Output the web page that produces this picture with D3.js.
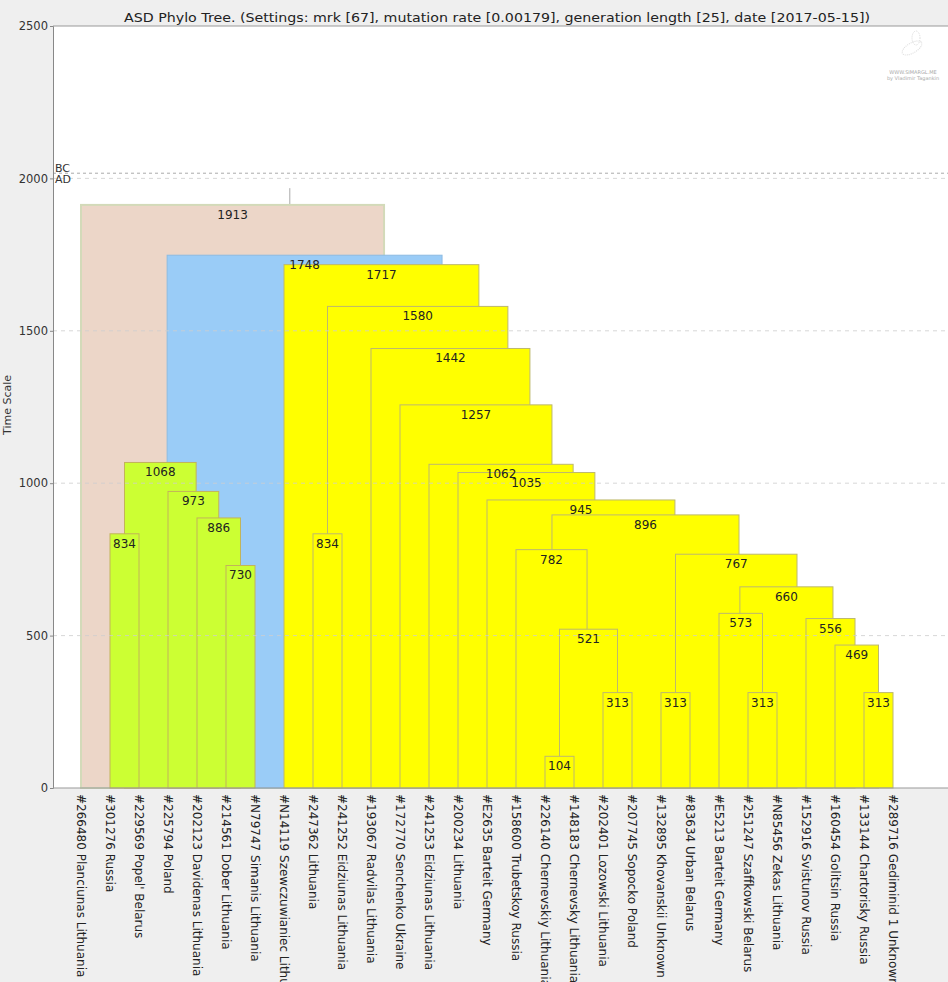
<!DOCTYPE html>
<html lang="en">
<head>
<meta charset="UTF-8">
<title>ASD Phylo Tree</title>
<script src="https://cdn.jsdelivr.net/npm/d3@7"></script>
<style>
  body { margin: 0; background: #efefef; }
  svg text { font-family: "DejaVu Sans", sans-serif; }
</style>
</head>
<body>
<script>
// leaves, left to right along the bottom
const leafNames = [
  "#266480 Planciunas Lithuania", "#301276  Russia", "#229569 Popel' Belarus", "#225794  Poland",
  "#202123 Davidenas Lithuania", "#214561 Dober Lithuania", "#N79747 Simanis Lithuania",
  "#N14119 Szewczuwianiec Lithuania", "#247362  Lithuania", "#241252 Eidziunas Lithuania",
  "#193067 Radvilas Lithuania", "#172770 Senchenko Ukraine", "#241253 Eidziunas Lithuania",
  "#200234  Lithuania", "#E2635 Barteit Germany", "#158600 Trubetskoy Russia",
  "#226140 Chernevskiy Lithuania", "#148183 Chernevsky Lithuania", "#202401 Lozowski Lithuania",
  "#207745 Sopocko Poland", "#132895 Khovanskii Unknown", "#83634 Urban Belarus",
  "#E5213 Barteit Germany", "#251247 Szaffkowski Belarus", "#N85456 Zekas Lithuania",
  "#152916 Svistunov Russia", "#160454 Golitsin Russia", "#133144 Chartorisky Russia",
  "#289716 Gediminid 1 Unknown"
];

// internal nodes: age in years, children (L = leaf index, N = node index),
// clade, and horizontal place of the node in leaf units
const nodeAge = [1913, 1748, 1068, 973, 886, 730, 834, 1717, 834, 1580, 1442, 1257, 1062, 1035,
  945, 896, 782, 104, 521, 313, 767, 313, 660, 573, 313, 556, 469, 313];
const nodeKids = [
  ["L0", "N1"], ["N2", "N7"], ["N6", "N3"], ["L3", "N4"], ["L4", "N5"], ["L5", "L6"], ["L1", "L2"],
  ["L7", "N9"], ["L8", "L9"], ["N8", "N10"], ["L10", "N11"], ["L11", "N12"], ["L12", "N13"],
  ["L13", "N14"], ["L14", "N15"], ["N16", "N20"], ["L15", "N18"], ["L16", "L17"], ["N17", "N19"],
  ["L18", "L19"], ["N21", "N22"], ["L20", "L21"], ["N23", "N25"], ["L22", "N24"], ["L23", "L24"],
  ["L25", "N26"], ["L26", "N27"], ["L27", "L28"]
];
const nodeClade = ["root", "blue", "green", "green", "green", "green", "green",
  "yellow", "yellow", "yellow", "yellow", "yellow", "yellow", "yellow", "yellow", "yellow",
  "yellow", "yellow", "yellow", "yellow", "yellow", "yellow", "yellow", "yellow", "yellow",
  "yellow", "yellow", "yellow"];
const nodeAt = [7.2, 10.45, 2.97, 3.97, 4.75, 5.5, 1.5, 12.45, 8.5, 13.72, 14.72, 15.48, 16.24,
  16.97, 17.72, 20.48, 16.24, 16.5, 17.45, 18.5, 22.69, 20.5, 24.69, 22.72, 23.5, 25.93, 26.69, 27.5];

const yTicks = [0, 500, 1000, 1500, 2000, 2500];
const eraYear = 2017;      // BC / AD boundary seen from 2017
const rootStemTop = 1968;
const titleText = "ASD Phylo Tree. (Settings: mrk [67], mutation rate [0.00179], generation length [25], date [2017-05-15])";

const cladeFill = {root: "#ecd6c8", blue: "#9accf7", green: "#ccff33", yellow: "#ffff00"};
const cladeStroke = {root: "#d3dab9", blue: "#8cbbe2", green: "#c2b45a", yellow: "#bdb86e"};

const W = 948, H = 982;
const plot = {left: 53, top: 26, right: 948, bottom: 788};

const svg = d3.select("body").append("svg")
  .attr("width", W)
  .attr("height", H);

svg.append("rect")
  .attr("x", plot.left).attr("y", plot.top)
  .attr("width", plot.right - plot.left).attr("height", plot.bottom - plot.top)
  .attr("fill", "#fff");

const x = d3.scaleLinear().domain([0, leafNames.length - 1]).range([81, 893]);
const y = d3.scaleLinear().domain([0, 2500]).range([plot.bottom, plot.top]);

const kidX = k => k[0] === "L" ? +k.slice(1) : nodeAt[+k.slice(1)];

// boxes, parents first
const order = [];
(function walk(i) {
  order.push(i);
  nodeKids[i].forEach(k => { if (k[0] === "N") walk(+k.slice(1)); });
})(0);

// watermark logo, faint
const logo = svg.append("g").attr("transform", "translate(912,48)").attr("opacity", 0.35);
logo.append("ellipse").attr("rx", 11).attr("ry", 5).attr("transform", "rotate(-30)")
  .attr("fill", "none").attr("stroke", "#999").attr("stroke-dasharray", "1,1");
logo.append("ellipse").attr("cx", 4).attr("cy", -10).attr("rx", 4).attr("ry", 7)
  .attr("fill", "none").attr("stroke", "#999").attr("stroke-dasharray", "1,1");
svg.append("text").attr("x", 913).attr("y", 74).attr("text-anchor", "middle")
  .attr("font-size", 5).attr("fill", "#aaa").text("WWW.SIMARGL.ME");
svg.append("text").attr("x", 913).attr("y", 80).attr("text-anchor", "middle")
  .attr("font-size", 5).attr("fill", "#aaa").text("by Vladimir Tagankin");

// root stem
svg.append("line")
  .attr("x1", x(nodeAt[0])).attr("x2", x(nodeAt[0]))
  .attr("y1", y(nodeAge[0])).attr("y2", y(rootStemTop))
  .attr("stroke", "#aaa");

const boxes = svg.append("g");
order.forEach(i => {
  const [a, b] = nodeKids[i];
  const x0 = x(kidX(a)), x1 = x(kidX(b));
  const c = nodeClade[i];
  boxes.append("rect")
    .attr("x", x0).attr("y", y(nodeAge[i]))
    .attr("width", x1 - x0).attr("height", y(0) - y(nodeAge[i]))
    .attr("fill", cladeFill[c])
    .attr("stroke", cladeStroke[c])
    .attr("stroke-width", c === "root" ? 2 : 1);
});

// grid lines over the boxes
svg.append("g").selectAll("line")
  .data(yTicks.filter(d => d > 0 && d < 2500))
  .join("line")
  .attr("x1", plot.left).attr("x2", plot.right)
  .attr("y1", d => y(d)).attr("y2", d => y(d))
  .attr("stroke", "#cfcfcf")
  .attr("stroke-dasharray", "4,4")
  .attr("opacity", 0.8);

// BC / AD boundary
svg.append("line")
  .attr("x1", plot.left).attr("x2", plot.right)
  .attr("y1", y(eraYear)).attr("y2", y(eraYear))
  .attr("stroke", "#aaa")
  .attr("stroke-dasharray", "3,3");
svg.append("text").attr("x", 55).attr("y", y(eraYear) - 1)
  .attr("font-size", 11).attr("fill", "#333").text("BC");
svg.append("text").attr("x", 55).attr("y", y(eraYear) + 10)
  .attr("font-size", 11).attr("fill", "#333").text("AD");

// node ages
svg.append("g").selectAll("text")
  .data(order)
  .join("text")
  .attr("x", i => (x(kidX(nodeKids[i][0])) + x(kidX(nodeKids[i][1]))) / 2)
  .attr("y", i => y(nodeAge[i]) + 14)
  .attr("text-anchor", "middle")
  .attr("font-size", 12)
  .attr("fill", "#222")
  .text(i => nodeAge[i]);

// frame
svg.append("line")
  .attr("x1", plot.left).attr("x2", plot.right)
  .attr("y1", plot.top).attr("y2", plot.top)
  .attr("stroke", "#999");

// y axis
const yAxis = svg.append("g")
  .attr("transform", `translate(${plot.left},0)`)
  .call(d3.axisLeft(y).tickValues(yTicks).tickFormat(d3.format("d")).tickSize(3).tickPadding(2));
yAxis.select(".domain").attr("stroke", "#888");
yAxis.selectAll(".tick line").attr("stroke", "#888");
yAxis.selectAll("text").attr("font-size", 11.5).attr("fill", "#333")
  .attr("font-family", "DejaVu Sans, sans-serif");

svg.append("text")
  .attr("transform", `translate(11,405) rotate(-90)`)
  .attr("text-anchor", "middle")
  .attr("font-size", 11)
  .attr("fill", "#333")
  .text("Time Scale");

// leaf axis
const xAxis = svg.append("g")
  .attr("transform", `translate(0,${plot.bottom})`)
  .call(d3.axisBottom(x).tickValues(d3.range(leafNames.length))
    .tickFormat(i => leafNames[i]).tickSize(0));
xAxis.select(".domain").attr("stroke", "#999").attr("d", `M${plot.left},0H${plot.right}`);
xAxis.selectAll("text")
  .attr("transform", "rotate(90)")
  .attr("x", 6).attr("y", 0).attr("dy", "0.35em")
  .attr("text-anchor", "start")
  .attr("font-size", 12)
  .attr("fill", "#222")
  .attr("font-family", "DejaVu Sans, sans-serif");

// title
svg.append("text")
  .attr("x", 497).attr("y", 22)
  .attr("text-anchor", "middle")
  .attr("font-size", 13)
  .attr("fill", "#222")
  .attr("textLength", 746)
  .attr("lengthAdjust", "spacingAndGlyphs")
  .text(titleText);
</script>
</body>
</html>
